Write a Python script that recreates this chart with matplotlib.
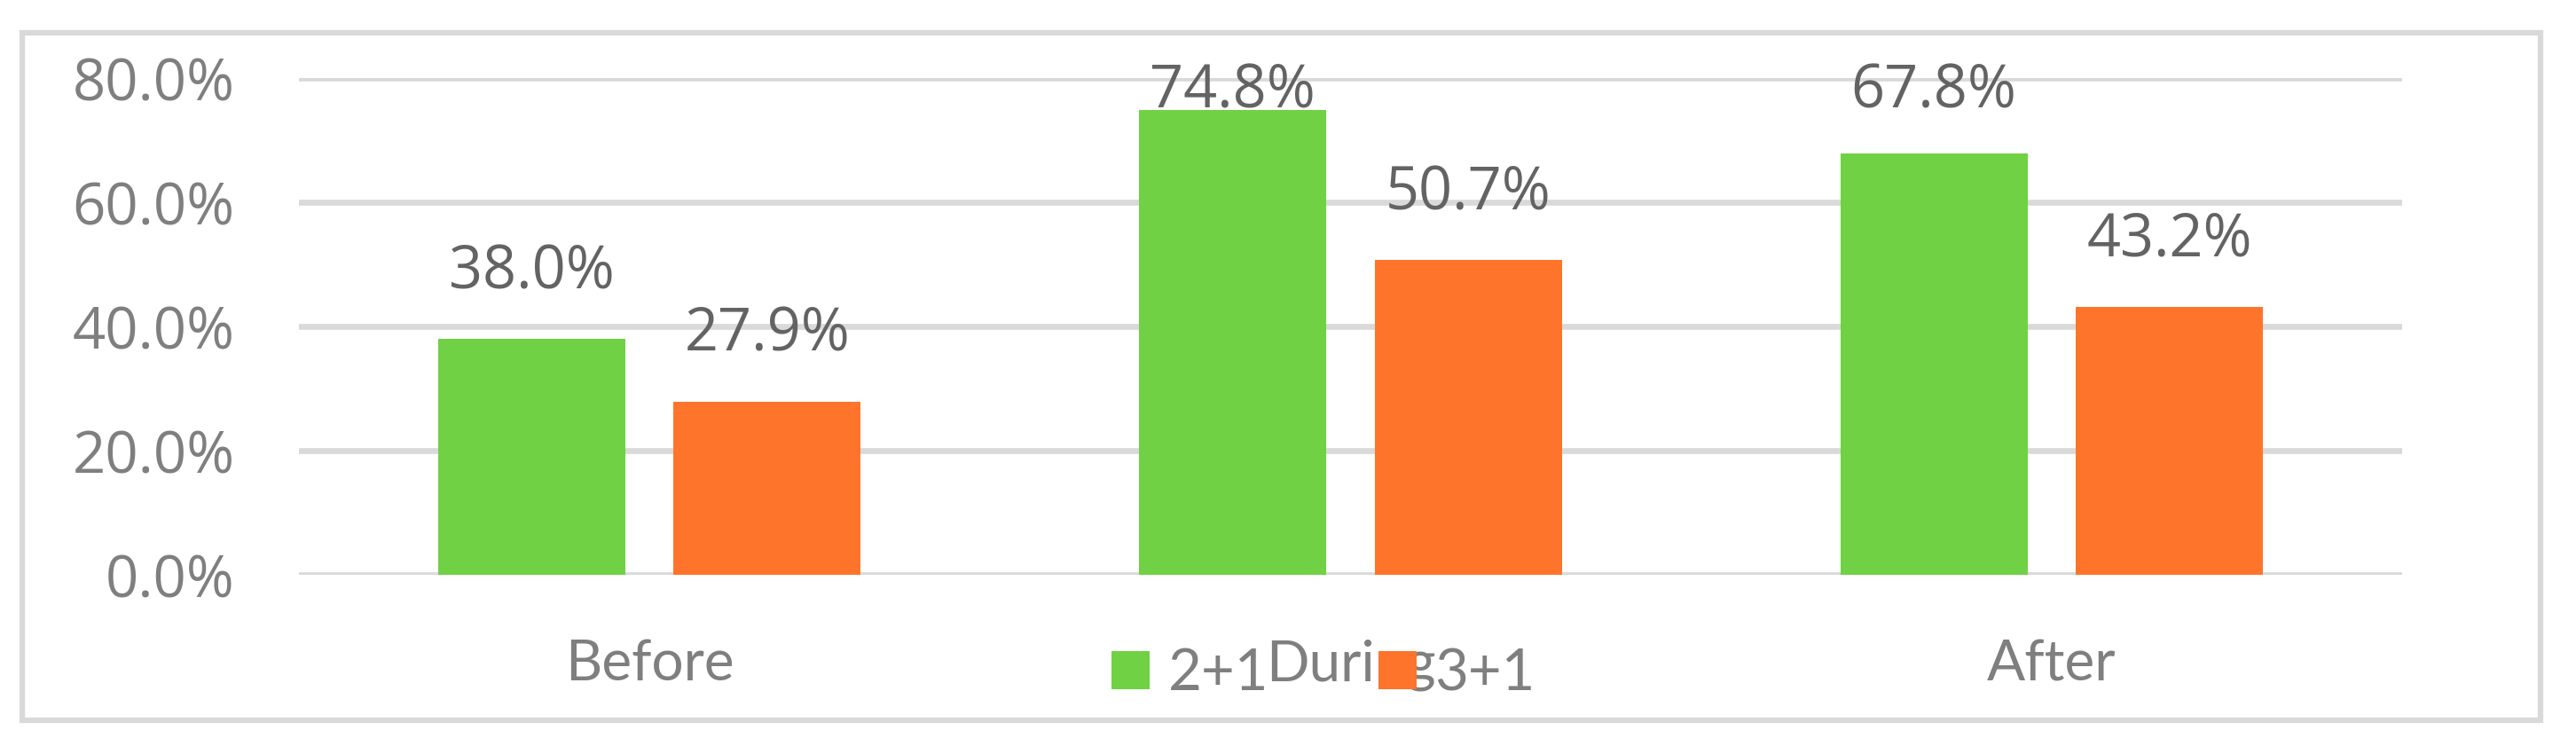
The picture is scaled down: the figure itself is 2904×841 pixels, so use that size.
import matplotlib
matplotlib.use("Agg")
import matplotlib.pyplot as plt
import numpy as np
from matplotlib.patches import Rectangle

# data
phases = ["Before", "During", "After"]
series_names = ["2+1", "3+1"]
share_2p1 = [0.380, 0.748, 0.678]
share_3p1 = [0.279, 0.507, 0.432]
y_ticks = [0.0, 0.2, 0.4, 0.6, 0.8]

colors = ["#6fd143", "#ff742b"]
grid_col = "#d9d9d9"
tick_col = "#7f7f7f"
label_col = "#636363"

W, H, DPI = 2904, 841, 100
fig = plt.figure(figsize=(W / DPI, H / DPI), dpi=DPI)
fig.patch.set_facecolor("white")

# plot area in pixel coords of the reference
x0, x1, ytop, ybot = 337, 2708, 88, 648
ax = fig.add_axes([x0 / W, 1 - ybot / H, (x1 - x0) / W, (ybot - ytop) / H])

x = np.arange(len(phases))
width = 0.267
offset = 0.168
for i, (name, vals) in enumerate(zip(series_names, [share_2p1, share_3p1])):
    pos = x + (i * 2 - 1) * offset
    ax.bar(pos, vals, width=width, color=colors[i], label=name, zorder=3)
    for px, v in zip(pos, vals):
        ax.text(px, min(v + 0.0813, 0.7525), f"{v * 100:.1f}%", ha="center",
                va="baseline", fontsize=48, color=label_col,
                family=["Open Sans", "DejaVu Sans"], zorder=4, clip_on=False)

ax.set_xlim(-0.5, 2.5)
ax.set_ylim(0, 0.8)
ax.set_yticks(y_ticks)
ax.set_yticklabels([f"{t * 100:.1f}%" for t in y_ticks],
                   family=["Open Sans", "DejaVu Sans"], fontsize=47, color=tick_col)
ax.tick_params(axis="y", length=0, pad=52)
for lab in ax.get_yticklabels():
    lab.set_verticalalignment("center_baseline")
ax.set_xticks([])
for s in ax.spines.values():
    s.set_visible(False)
ax.yaxis.grid(True, color=grid_col, linewidth=4.8, zorder=0)
ax.set_axisbelow(True)

# category labels
for xi, name in zip(x, phases):
    ax.text(xi, -0.2126, name, transform=ax.get_xaxis_transform(), ha="center",
            va="baseline", fontsize=46, color=tick_col, family=["Lato", "DejaVu Sans"])

fig.legend(loc="center", bbox_to_anchor=(1492 / W, 1 - 760 / H), ncol=2,
           frameon=False, prop={"family": ["Lato", "DejaVu Sans"], "size": 47},
           labelcolor=tick_col, handlelength=0.65, handleheight=0.65,
           handletextpad=0.32, columnspacing=1.9)

# outer chart border
fig.patches.append(Rectangle((25 / W, 1 - 812 / H), (2864 - 25) / W, (812 - 37) / H,
                             transform=fig.transFigure, fill=False,
                             edgecolor=grid_col, linewidth=4.5))

fig.savefig("out.png", dpi=DPI, facecolor="white")
